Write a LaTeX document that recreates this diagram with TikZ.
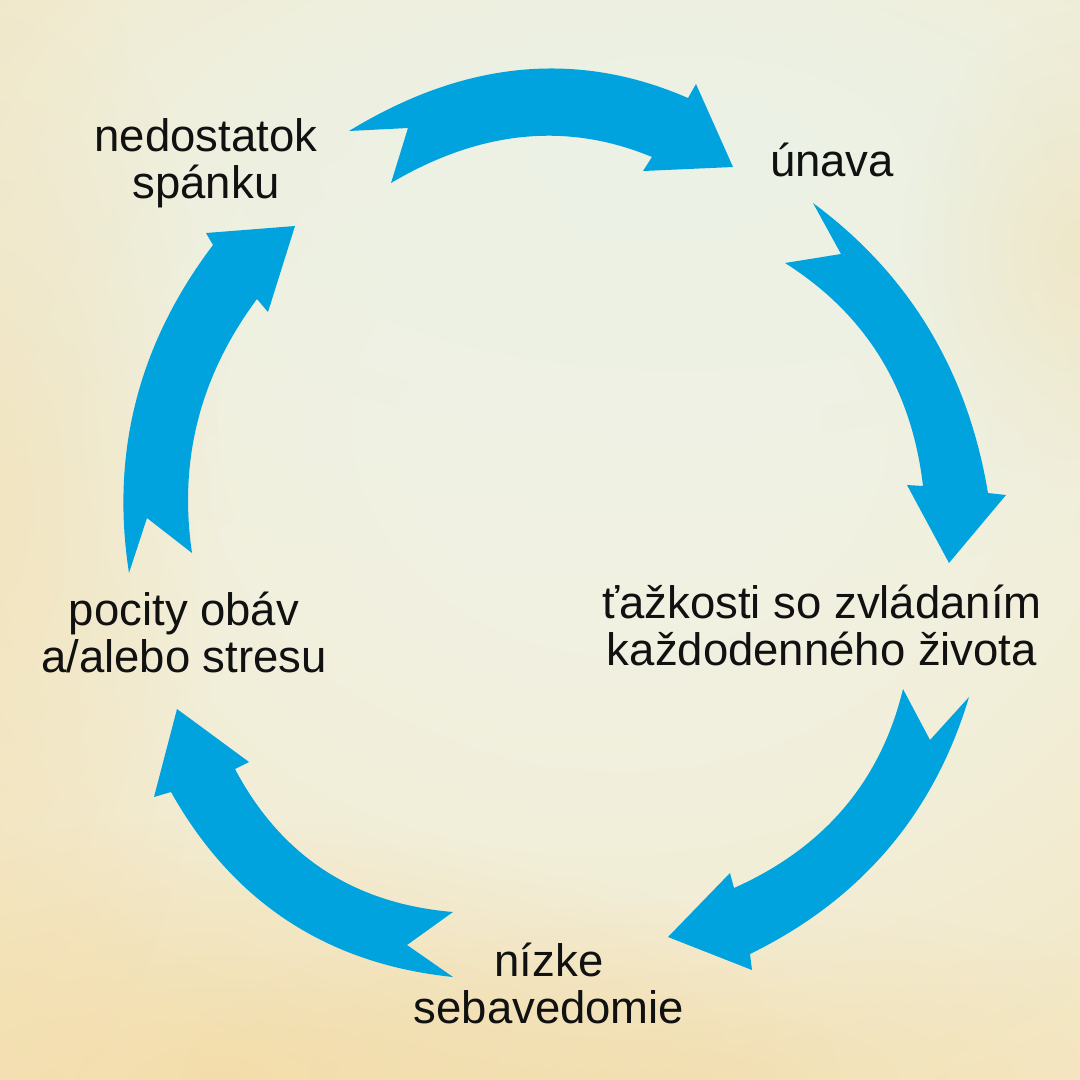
\documentclass[tikz,border=0pt]{standalone}
\usepackage{fontspec}
\setmainfont{Liberation Sans}
\usetikzlibrary{calc,fadings}
\definecolor{arrowblue}{HTML}{00A3DD}
\definecolor{bgwarm}{HTML}{F5E6BE}
\definecolor{bglight}{HTML}{F1F2E4}
\definecolor{bggreen}{HTML}{EBF2E6}
\definecolor{bgdeep}{HTML}{F3D596}
\definecolor{txt}{HTML}{111111}
\tikzfading[name=softblob, inner color=transparent!0, outer color=transparent!100]
\tikzset{
  cyc/.style={fill=arrowblue},
  lbl/.style={font=\fontsize{45.5}{47}\selectfont, align=center, inner sep=0pt, text=txt},
  qc/.style n args={3}{insert path={.. controls ($1.3333*#2-0.3333*#3$) and ($1.3333*#2-0.3333*#1$) .. #3}}
}
\begin{document}
\begin{tikzpicture}[x=1pt,y=-1pt]
\useasboundingbox (0,0) rectangle (1080,1080);
\begin{scope}
\clip (0,0) rectangle (1080,1080);
\fill[bgwarm] (0,0) rectangle (1080,1080);
\fill[bglight, path fading=softblob] (600,450) ellipse [x radius=1150, y radius=900];
\fill[bglight, path fading=softblob] (620,420) ellipse [x radius=800, y radius=700];
\fill[bggreen, path fading=softblob] (680,160) ellipse [x radius=900, y radius=420];
\fill[bgdeep, opacity=0.55, path fading=softblob] (220,1080) ellipse [x radius=620, y radius=260];
\fill[bgdeep, opacity=0.4, path fading=softblob] (700,1080) ellipse [x radius=520, y radius=180];
\fill[bgdeep, opacity=0.3, path fading=softblob] (0,520) ellipse [x radius=220, y radius=600];
\fill[bgdeep, opacity=0.3, path fading=softblob] (1080,250) ellipse [x radius=180, y radius=240];
\end{scope}

% arrows
\fill[cyc] (349,131) [qc={(349,131)}{(520,70)}{(688,98)}] -- (696,84) -- (733,167) -- (643,171) -- (652,157) [qc={(652,157)}{(523,137)}{(391,183)}] -- (408,128) -- cycle;
\fill[cyc] (813,203) [qc={(813,203)}{(929,329)}{(988,493)}] -- (1006,495) -- (949,563) -- (907,485) -- (923,486) [qc={(923,486)}{(880,357)}{(785,263)}] -- (841,254) -- cycle;
\fill[cyc] (969,697) [qc={(969,697)}{(888,849)}{(750,954)}] -- (752,970) -- (668,937) -- (730,873) -- (734,888) [qc={(734,888)}{(844,808)}{(903,689)}] -- (930,740) -- cycle;
\fill[cyc] (453,977) [qc={(453,977)}{(288,921)}{(171,792)}] -- (154,797) -- (177,709) -- (249,762) -- (235,769) [qc={(235,769)}{(324,870)}{(453,912)}] -- (407,945) -- cycle;
\fill[cyc] (129,573) [qc={(129,573)}{(136,401)}{(213,245)}] -- (206,233) -- (295,226) -- (268,312) -- (257,299) [qc={(257,299)}{(198,420)}{(192,553)}] -- (147,518) -- cycle;

% labels
\node[lbl, anchor=base] (sleep) at (206,198) {nedostatok\\spánku};
\node[lbl, anchor=base] (fatigue) at (832,176) {únava};
\node[lbl, anchor=base] (coping) at (822,665) {ťažkosti so zvládaním\\každodenného života};
\node[lbl, anchor=base] (esteem) at (549,1023) {nízke\\sebavedomie};
\node[lbl, anchor=base] (worry) at (184,672) {pocity obáv\\a/alebo stresu};
\end{tikzpicture}
\end{document}
